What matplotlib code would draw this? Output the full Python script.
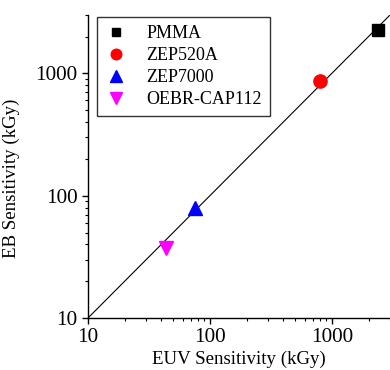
from matplotlib import pyplot as plt
from matplotlib.ticker import LogLocator, NullFormatter
import numpy as np

# resist sensitivities (kGy)
resists = ['PMMA', 'ZEP520A', 'ZEP7000', 'OEBR-CAP112']
euv_sens = [2400, 800, 75, 44]
eb_sens = [2250, 870, 80, 37]
markers = ['s', 'o', '^', 'v']
colors = ['black', 'red', 'blue', 'magenta']
msizes = [8, 9.5, 10, 10]

diag = [10, 3000]

plt.rcParams['font.family'] = ['Liberation Serif', 'DejaVu Serif']

fig = plt.figure(figsize=(3.9, 3.7), dpi=100)
ax = fig.add_axes([88 / 390, 52 / 370, 302 / 390, 303 / 370])

ax.plot(diag, diag, color='black', lw=0.8, zorder=1)
for name, x, y, m, c, s in zip(resists, euv_sens, eb_sens, markers, colors, msizes):
    ax.plot(x, y, linestyle='none', marker=m, color=c, markersize=s, label=name, zorder=3)

ax.set_xscale('log')
ax.set_yscale('log')
ax.set_xlim(10, 3000)
ax.set_ylim(10, 3000)

for side in ['top', 'right']:
    ax.spines[side].set_visible(False)
for side in ['left', 'bottom']:
    ax.spines[side].set_linewidth(1.0)

ax.xaxis.set_minor_locator(LogLocator(base=10, subs=np.arange(2, 10)))
ax.yaxis.set_minor_locator(LogLocator(base=10, subs=np.arange(2, 10)))
ax.xaxis.set_minor_formatter(NullFormatter())
ax.yaxis.set_minor_formatter(NullFormatter())
ax.set_xticks([10, 100, 1000])
ax.set_xticklabels(['10', '100', '1000'])
ax.set_yticks([10, 100, 1000])
ax.set_yticklabels(['10', '100', '1000'])

ax.tick_params(which='major', direction='out', length=4.5, width=1.0, labelsize=15.2, pad=3)
ax.tick_params(which='minor', direction='out', length=2.5, width=0.8)

ax.set_xlabel('EUV Sensitivity (kGy)', fontsize=13.6, labelpad=2)
ax.set_ylabel('EB Sensitivity (kGy)', fontsize=13.6)
ax.yaxis.set_label_coords(-0.225, 0.46)

leg = ax.legend(loc='upper left', bbox_to_anchor=(97 / 390, 1 - 17 / 370),
                bbox_transform=fig.transFigure, borderaxespad=0,
                fontsize=13.0, frameon=True, fancybox=False, markerscale=0.8,
                handlelength=1.2, handletextpad=1.1, labelspacing=0.28,
                borderpad=0.45, numpoints=1)
leg.get_frame().set_edgecolor('black')
leg.get_frame().set_linewidth(1.0)

plt.savefig('out.png', dpi=100)
